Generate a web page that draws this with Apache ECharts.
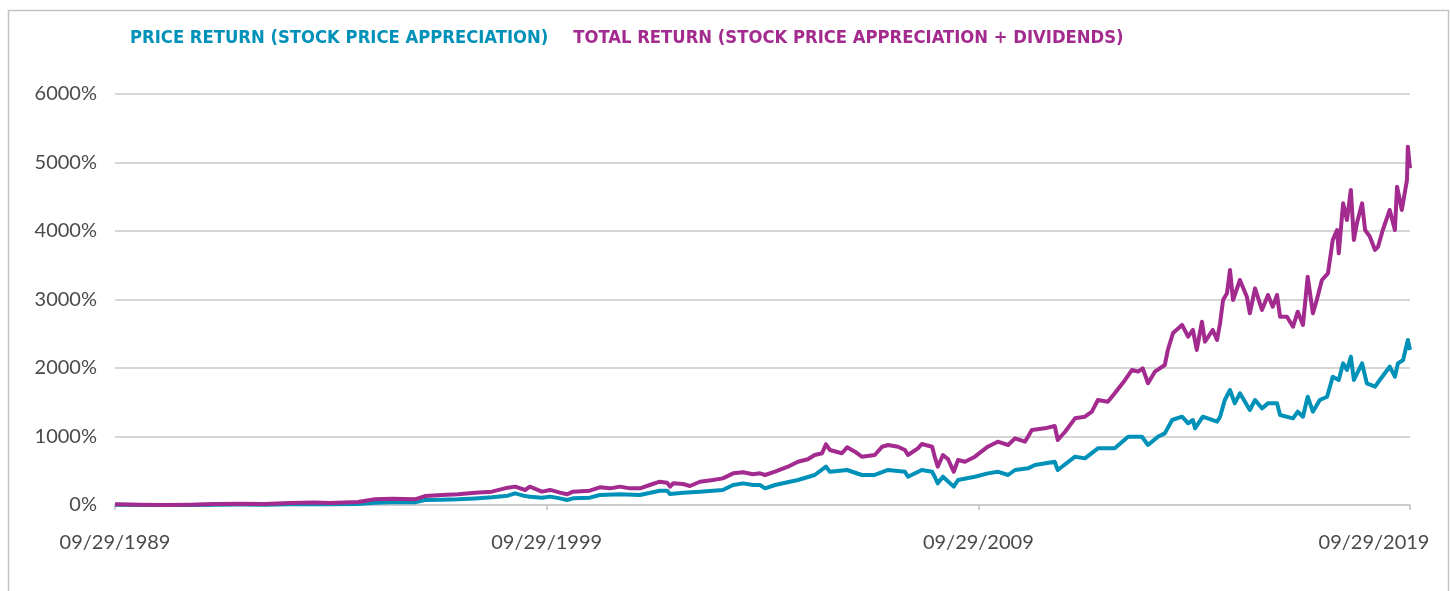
<!DOCTYPE html>
<html>
<head>
<meta charset="utf-8">
<script src="https://cdn.jsdelivr.net/npm/echarts@6/dist/echarts.min.js"></script>
<style>html,body{margin:0;padding:0;background:#fff;}#c{width:1450px;height:591px;}</style>
</head>
<body>
<div id="c"></div>
<script>
// x = years elapsed since 09/29/1989, y = cumulative return in %
var startYear = 1989;
var xTicks = [0, 10, 20, 30];
var yTicks = [0, 1000, 2000, 3000, 4000, 5000, 6000];
var seriesNames = ['PRICE RETURN (STOCK PRICE APPRECIATION)', 'TOTAL RETURN (STOCK PRICE APPRECIATION + DIVIDENDS)'];
var seriesColors = ['#0091B9', '#A32A8E'];

var priceReturn = [[0,5],[0.58,0],[1.16,0],[1.74,0],[2.32,5],[2.90,8],[3.47,5],[4.05,12],[4.63,15],[4.98,10],[5.63,15],[6.02,34],[6.42,39],[6.95,40],[7.18,73],[7.57,78],[7.95,83],[8.34,95],[8.73,112],[9.10,136],[9.27,170],[9.50,130],[9.61,122],[9.89,105],[10.08,122],[10.31,97],[10.47,73],[10.61,97],[11.00,107],[11.23,146],[11.70,156],[12.16,146],[12.62,209],[12.79,209],[12.86,160],[13.16,180],[13.55,195],[14.08,219],[14.32,292],[14.55,316],[14.78,292],[14.94,292],[15.06,243],[15.29,292],[15.82,365],[16.21,438],[16.47,559],[16.56,486],[16.96,511],[17.30,438],[17.60,438],[17.91,511],[18.30,486],[18.37,413],[18.69,511],[18.93,486],[18.99,413],[19.06,316],[19.18,413],[19.43,268],[19.53,365],[19.92,413],[20.22,462],[20.45,486],[20.69,438],[20.85,511],[21.15,535],[21.31,584],[21.77,632],[21.84,511],[22.24,705],[22.47,681],[22.77,827],[23.16,827],[23.47,997],[23.79,997],[23.93,876],[24.16,997],[24.32,1046],[24.49,1241],[24.72,1289],[24.86,1193],[24.97,1241],[25.02,1119],[25.20,1289],[25.53,1216],[25.60,1289],[25.71,1533],[25.83,1679],[25.94,1484],[26.06,1630],[26.29,1387],[26.41,1533],[26.57,1411],[26.71,1484],[26.92,1484],[26.99,1314],[27.29,1265],[27.40,1362],[27.52,1289],[27.63,1581],[27.75,1362],[27.91,1533],[28.08,1581],[28.21,1873],[28.35,1825],[28.45,2068],[28.54,1971],[28.63,2165],[28.70,1825],[28.89,2068],[29.00,1776],[29.19,1727],[29.30,1825],[29.53,2019],[29.65,1873],[29.72,2068],[29.84,2117],[29.95,2409],[30.00,2263]];

var totalReturn = [[0,10],[0.58,5],[1.16,0],[1.74,5],[2.32,15],[2.90,20],[3.47,15],[4.05,30],[4.63,35],[4.98,30],[5.63,44],[6.02,83],[6.42,92],[6.95,83],[7.18,131],[7.57,146],[7.95,156],[8.34,180],[8.73,195],[9.10,253],[9.27,268],[9.50,219],[9.61,268],[9.89,195],[10.08,220],[10.31,180],[10.47,156],[10.61,195],[11.00,209],[11.23,258],[11.47,243],[11.70,268],[11.93,243],[12.16,243],[12.39,292],[12.62,340],[12.79,326],[12.86,268],[12.93,316],[13.16,307],[13.32,277],[13.55,340],[13.85,365],[14.08,389],[14.32,462],[14.55,477],[14.78,448],[14.94,462],[15.06,438],[15.29,486],[15.59,559],[15.82,632],[16.05,667],[16.21,730],[16.38,755],[16.47,886],[16.56,803],[16.84,755],[16.96,842],[17.14,778],[17.30,705],[17.60,730],[17.77,851],[17.91,876],[18.14,851],[18.30,803],[18.37,730],[18.60,827],[18.69,890],[18.93,851],[18.99,705],[19.06,559],[19.18,730],[19.30,667],[19.43,486],[19.53,657],[19.69,632],[19.92,705],[20.22,851],[20.45,924],[20.69,876],[20.85,973],[21.08,924],[21.24,1095],[21.54,1119],[21.77,1153],[21.84,949],[22.01,1070],[22.24,1265],[22.47,1289],[22.63,1362],[22.77,1533],[23.00,1508],[23.16,1630],[23.40,1825],[23.56,1971],[23.70,1946],[23.81,1995],[23.93,1777],[24.09,1946],[24.32,2044],[24.39,2263],[24.51,2510],[24.72,2628],[24.86,2457],[24.97,2555],[25.06,2263],[25.18,2676],[25.25,2384],[25.43,2555],[25.53,2409],[25.60,2652],[25.67,2993],[25.76,3090],[25.83,3431],[25.90,2993],[26.06,3285],[26.22,3041],[26.29,2798],[26.41,3163],[26.57,2847],[26.71,3066],[26.82,2895],[26.92,3066],[26.99,2749],[27.15,2749],[27.29,2603],[27.40,2822],[27.52,2628],[27.63,3333],[27.75,2798],[27.84,2993],[27.96,3285],[28.10,3382],[28.21,3869],[28.31,4015],[28.35,3674],[28.45,4404],[28.54,4161],[28.63,4599],[28.70,3869],[28.77,4112],[28.89,4404],[28.96,4015],[29.07,3917],[29.19,3723],[29.26,3771],[29.37,4015],[29.53,4307],[29.65,4015],[29.70,4647],[29.81,4307],[29.93,4745],[29.95,5231],[30.00,4915]];

var chart = echarts.init(document.getElementById('c'), null, {renderer: 'canvas'});
var labelFont = 'Lato, "Open Sans", sans-serif';
var lastTick = xTicks[xTicks.length - 1];
chart.setOption({
  animation: false,
  backgroundColor: '#fff',
  graphic: [{
    type: 'rect', left: 6, top: 8, silent: true,
    shape: {width: 1440, height: 620},
    style: {fill: 'none', stroke: '#c4c4c4', lineWidth: 1.5}
  }],
  legend: {
    left: 120, top: 24,
    icon: 'none', itemWidth: 0, itemHeight: 0, itemGap: 20,
    selectedMode: false,
    data: seriesNames.map(function (n, i) {
      return {name: n, textStyle: {color: seriesColors[i]}};
    }),
    textStyle: {fontFamily: '"DejaVu Sans Condensed", "Liberation Sans Narrow", sans-serif', fontWeight: 'bold', fontSize: 18.3, padding: 0}
  },
  grid: {left: 115, right: 40, top: 94, bottom: 86, containLabel: false, outerBoundsMode: 'none'},
  xAxis: {
    type: 'value', min: xTicks[0], max: lastTick, interval: xTicks[1] - xTicks[0],
    axisLine: {show: true, lineStyle: {color: '#c8c8c8', width: 1.5}},
    axisTick: {show: true, length: 5, lineStyle: {color: '#c0c0c0', width: 1.5}},
    splitLine: {show: false},
    axisLabel: {
      show: true, margin: 28, color: '#4a4a4a', fontSize: 20, fontFamily: labelFont,
      showMinLabel: true, showMaxLabel: true, hideOverlap: false,
      formatter: function (v) {
        var s = '09/29/' + (startYear + v);
        return v === lastTick ? '{last|' + s + '}' : s;
      },
      rich: {last: {fontSize: 20, fontFamily: labelFont, color: '#4a4a4a', padding: [0, 72, 0, 0]}}
    }
  },
  yAxis: {
    type: 'value', min: yTicks[0], max: yTicks[yTicks.length - 1], interval: yTicks[1] - yTicks[0],
    axisLine: {show: false}, axisTick: {show: false},
    splitLine: {show: true, lineStyle: {color: '#c8c8c8', width: 1.5}},
    axisLabel: {margin: 18, color: '#4a4a4a', fontSize: 20, fontFamily: labelFont,
      formatter: function (v) { return String(v) + '%'; }}
  },
  series: [
    {name: seriesNames[0], type: 'line', data: priceReturn, showSymbol: false, symbol: 'none',
     lineStyle: {color: seriesColors[0], width: 4, join: 'round'}, itemStyle: {color: seriesColors[0]}},
    {name: seriesNames[1], type: 'line', data: totalReturn, showSymbol: false, symbol: 'none',
     lineStyle: {color: seriesColors[1], width: 4, join: 'round'}, itemStyle: {color: seriesColors[1]}}
  ]
});
</script>
</body>
</html>
